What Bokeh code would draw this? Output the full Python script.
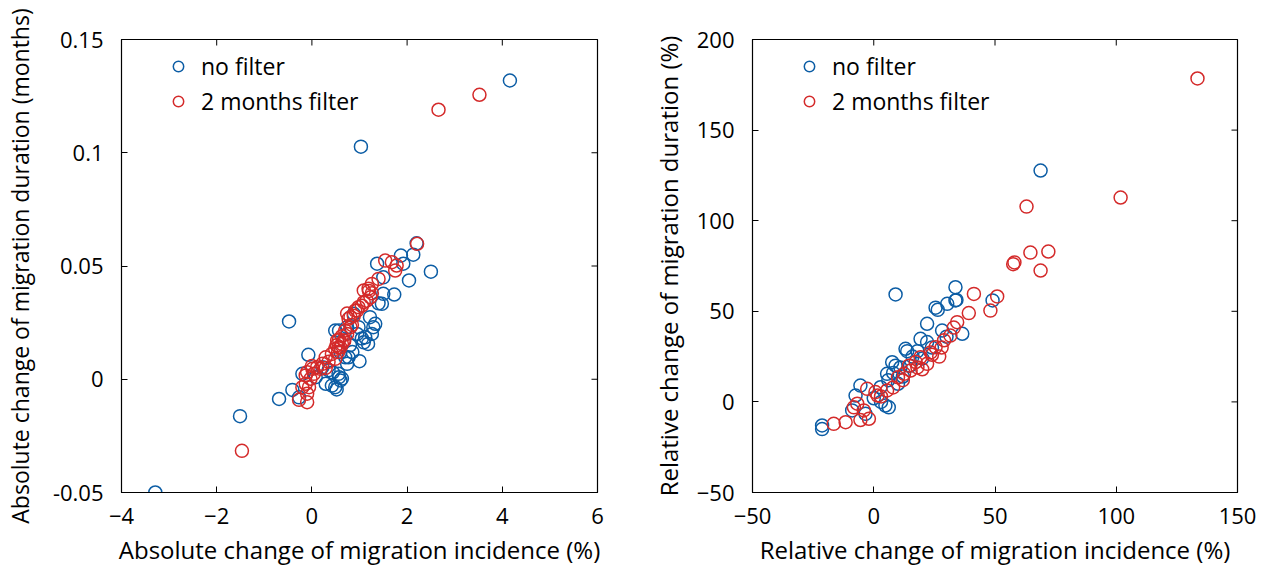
import math
from bokeh.plotting import figure
from bokeh.layouts import row
from bokeh.models import Legend, LegendItem, FixedTicker, LinearAxis, Range1d
from bokeh.embed import file_html
from bokeh.resources import INLINE

BLUE = "#0C5DA5"
RED = "#D42A2A"
FONT = "Open Sans"

# ---- Left panel: absolute change ----
abs_nf_x = [-3.29, 1.03, 4.16, -1.51, -0.69, -0.48, -0.075, -0.20, -0.41, -0.27, 0.08, 0.22,
            0.42, 0.52, 0.57, 0.74, 0.70, 0.57, 0.74, 0.88, 0.98, 1.09, 1.12, 1.22, 1.29,
            1.40, 1.50, 1.50, 1.73, 1.37, 1.87, 1.92, 2.13, 2.04, 2.50, 2.20, 0.63, 0.95,
            1.05, 0.80, 0.60, 0.35, 1.47, 1.33, 1.26, 1.18, 0.77, 0.56, 0.49, 0.29, 0.60,
            0.49, 0.85, 1.00, 0.44]
abs_nf_y = [-0.050, 0.1027, 0.1319, -0.0163, -0.0087, 0.0255, 0.0108, 0.0024, -0.0047, -0.008,
            0.0009, 0.0053, -0.0028, -0.0045, 0.0009, 0.0068, 0.0097, 0.0215, 0.023, 0.0289,
            0.023, 0.0163, 0.0185, 0.0274, 0.023, 0.0335, 0.0377, 0.045, 0.0374, 0.051,
            0.0546, 0.051, 0.055, 0.0436, 0.0475, 0.060, 0.0003, 0.020, 0.018, 0.015, 0.012,
            0.004, 0.0333, 0.0245, 0.020, 0.0156, 0.0097, 0.0024, -0.0035, -0.002, -0.0005,
            0.0215, 0.012, 0.008, 0.003]
abs_f_x = [-1.47, 2.66, 3.52, 2.21, 1.54, 1.68, 1.78, 1.75, 1.40, 1.26, 1.19, 1.09, 1.26,
           1.15, 1.05, 0.95, 0.88, 0.77, 0.84, 0.70, 0.63, 0.57, 0.63, 0.52, 0.49, 0.42,
           0.29, 0.35, 0.22, 0.11, 0.01, 0.04, -0.10, -0.03, -0.13, -0.06, -0.10, -0.27,
           -0.10, 0.60, 0.68, 0.55, -0.20, 0.18, 0.29, -0.13, 0.00, 0.49, 0.56, 0.67,
           0.74, 0.53, 0.81, 0.81, 0.91, 0.98, 1.09, 1.23, 1.20, 0.74]
abs_f_y = [-0.0316, 0.119, 0.1256, 0.0598, 0.0524, 0.0517, 0.0502, 0.048, 0.0443, 0.0421,
           0.040, 0.0392, 0.038, 0.0347, 0.0325, 0.0303, 0.028, 0.0267, 0.024, 0.0215,
           0.019, 0.0175, 0.0156, 0.015, 0.0134, 0.0112, 0.0097, 0.0077, 0.0068, 0.0053,
           0.0046, 0.0024, 0.0031, 0.0002, -0.002, -0.0035, -0.0064, -0.0091, -0.0101,
           0.014, 0.017, 0.012, -0.0035, 0.0046, 0.005, 0.0017, 0.0058, 0.009, 0.0141,
           0.0171, 0.020, 0.0171, 0.023, 0.0274, 0.0303, 0.0318, 0.034, 0.0362, 0.039,
           0.029]

# ---- Right panel: relative change ----
rel_nf_x = [68.8, 9.0, 33.7, 34.1, 30.3, 26.4, 25.5, 22.0, 19.3, 36.5, 28.2, 13.1, 13.8,
            7.6, 9.0, 5.5, 6.0, 2.8, -5.5, -7.5, -8.9, -3.4, 4.8, 6.2, -21.3, -21.3,
            11.0, 22.0, 49.0, 33.7, 16.0, 18.0, 24.0, 30.0, 10.0, 3.0, 12.0, 15.0, 20.0,
            0.0, 8.0]
rel_nf_y = [127.7, 59.3, 63.3, 56.3, 54.1, 50.8, 52.0, 43.1, 34.8, 37.6, 39.4, 29.3, 28.0,
            21.9, 20.0, 15.5, 12.0, 8.1, 9.0, 3.5, -4.7, -6.6, -2.0, -3.0, -13.0, -15.0,
            19.0, 33.0, 56.0, 56.0, 25.0, 28.0, 30.0, 36.0, 10.0, 0.0, 14.0, 20.0, 24.0,
            2.0, 16.0]
rel_f_x = [133.5, 101.8, 63.0, 72.0, 64.6, 58.0, 57.5, 68.8, 41.3, 50.9, 48.1, 39.2, 34.4,
           33.0, 31.6, 29.0, 25.5, 23.5, 19.3, 17.3, 22.0, 15.2, 12.5, 10.0, 5.5, 0.7,
           -2.7, 1.6, -6.8, -4.1, -8.2, -2.0, -5.5, -11.6, -16.5, 14.5, 20.0, 27.0, 8.0,
           12.0, 18.0, 24.0, 28.0, 3.0]
rel_f_y = [178.5, 112.8, 107.8, 83.0, 82.4, 77.0, 76.0, 72.5, 59.6, 58.2, 50.4, 49.0, 44.0,
           41.0, 36.6, 34.0, 30.2, 27.3, 24.7, 22.0, 21.0, 17.3, 15.5, 13.6, 6.3, 5.4,
           7.2, 3.5, -1.0, -4.7, -3.0, -9.3, -10.0, -11.2, -12.1, 20.0, 18.0, 25.0, 8.0,
           12.0, 19.0, 26.0, 30.0, 3.0]

abs_xticks = [-4, -2, 0, 2, 4, 6]
abs_yticks = [-0.05, 0, 0.05, 0.1, 0.15]
abs_ylabels = {-0.05: "-0.05", 0: "0", 0.05: "0.05", 0.1: "0.1", 0.15: "0.15"}
rel_xticks = [-50, 0, 50, 100, 150]
rel_yticks = [-50, 0, 50, 100, 150, 200]

H = 569


def make_panel(width, left_border, right_border, xr, yr, xticks, yticks, xlabel, ylabel,
               nfx, nfy, fx, fy, ylabel_overrides=None, y_standoff=30, ylabel_size="24px"):
    p = figure(width=width, height=H, x_range=Range1d(*xr), y_range=Range1d(*yr),
               output_backend="svg", toolbar_location=None,
               min_border_left=left_border, min_border_right=right_border,
               min_border_top=39, min_border_bottom=77,
               x_axis_location=None, y_axis_location=None)
    p.grid.visible = False
    p.outline_line_color = "black"
    p.outline_line_width = 1.2
    p.background_fill_color = "white"
    p.border_fill_color = "white"

    xa = LinearAxis(ticker=FixedTicker(ticks=xticks), axis_label=xlabel)
    ya = LinearAxis(ticker=FixedTicker(ticks=yticks), axis_label=ylabel)
    if ylabel_overrides:
        ya.major_label_overrides = ylabel_overrides
    for ax in (xa, ya):
        ax.major_tick_in = 6
        ax.major_tick_out = 0
        ax.minor_tick_line_color = None
        ax.axis_line_color = "black"
        ax.major_tick_line_color = "black"
        ax.major_label_text_font = FONT
        ax.major_label_text_font_size = "22px"
        ax.major_label_text_color = "black"
        ax.axis_label_text_font = FONT
        ax.axis_label_text_font_size = "24px"
        ax.axis_label_text_font_style = "normal"
        ax.axis_label_text_color = "black"
    ya.axis_label_text_font_size = ylabel_size
    xa.major_label_standoff = 15
    xa.axis_label_standoff = 6
    ya.major_label_standoff = 18
    ya.axis_label_standoff = y_standoff
    p.add_layout(xa, "below")
    p.add_layout(ya, "left")

    # inward ticks on the top and right edges of the box
    p.scatter(xticks, [yr[1]] * len(xticks), marker="dash", angle=math.pi / 2, size=12,
              line_color="black", line_width=1)
    p.scatter([xr[1]] * len(yticks), yticks, marker="dash", size=12,
              line_color="black", line_width=1)

    r1 = p.scatter(nfx, nfy, marker="circle", size=13, fill_color=None,
                   line_color=BLUE, line_width=1.5)
    r2 = p.scatter(fx, fy, marker="circle", size=13, fill_color=None,
                   line_color=RED, line_width=1.5)
    leg = Legend(items=[LegendItem(label="no filter", renderers=[r1]),
                        LegendItem(label="2 months filter", renderers=[r2])],
                 location=(44, 375))
    leg.border_line_alpha = 0
    leg.background_fill_alpha = 0
    leg.label_text_font = FONT
    leg.label_text_font_size = "23px"
    leg.label_text_color = "black"
    leg.glyph_width = 26
    leg.glyph_height = 26
    leg.label_standoff = 10
    leg.spacing = 3
    leg.margin = 0
    leg.padding = 0
    p.add_layout(leg)
    return p


left = make_panel(640, 118, 43, (-4, 6), (-0.05, 0.15), abs_xticks, abs_yticks,
                  "Absolute change of migration incidence (%)",
                  "Absolute change of migration duration (months)",
                  abs_nf_x, abs_nf_y, abs_f_x, abs_f_y, abs_ylabels, y_standoff=14,
                  ylabel_size="23px")
right = make_panel(622, 112, 25, (-50, 150), (-50, 200), rel_xticks, rel_yticks,
                   "Relative change of migration incidence (%)",
                   "Relative change of migration duration (%)",
                   rel_nf_x, rel_nf_y, rel_f_x, rel_f_y, None, y_standoff=9)

layout = row(left, right)
open("out.html", "w").write(file_html(layout, INLINE))
